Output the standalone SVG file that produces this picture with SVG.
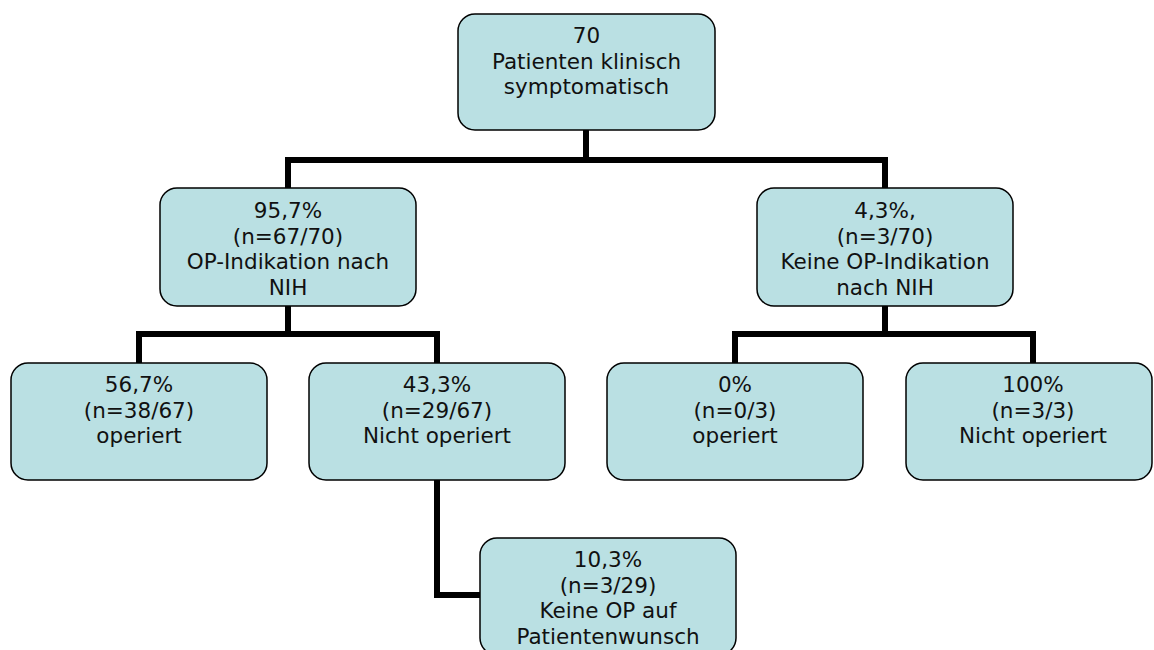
<svg xmlns="http://www.w3.org/2000/svg" width="1154" height="650" viewBox="0 0 1154 650">
  <style>
    .box { fill: #BAE0E3; stroke: #000; stroke-width: 1.5; }
    .lbl { font-family: "DejaVu Sans", Verdana, sans-serif; font-size: 21.5px; fill: #111; text-anchor: middle; }
    .conn { fill: none; stroke: #000; stroke-width: 6; stroke-linejoin: miter; stroke-linecap: butt; }
  </style>
  <rect width="1154" height="650" fill="#fff"/>
  <g id="connectors">
    <path class="conn" d="M586,130 V160"/>
    <path class="conn" d="M288,188 V160 H885 V188"/>
    <path class="conn" d="M288,306 V334"/>
    <path class="conn" d="M139,363 V334 H437 V363"/>
    <path class="conn" d="M885,306 V334"/>
    <path class="conn" d="M735,363 V334 H1033 V363"/>
    <path class="conn" d="M437,480 V595 H480"/>
  </g>
  <g id="root">
    <rect class="box" x="458" y="14" width="257" height="116" rx="17"/>
    <text class="lbl" x="586.5" y="43">70</text>
    <text class="lbl" x="586.5" y="68.5">Patienten klinisch</text>
    <text class="lbl" x="586.5" y="94">symptomatisch</text>
  </g>
  <g id="op-indikation">
    <rect class="box" x="160" y="188" width="256" height="118" rx="17"/>
    <text class="lbl" x="288" y="218">95,7%</text>
    <text class="lbl" x="288" y="243.5">(n=67/70)</text>
    <text class="lbl" x="288" y="269">OP-Indikation nach</text>
    <text class="lbl" x="288" y="294.5">NIH</text>
  </g>
  <g id="keine-op-indikation">
    <rect class="box" x="757" y="188" width="256" height="118" rx="17"/>
    <text class="lbl" x="885" y="218">4,3%,</text>
    <text class="lbl" x="885" y="243.5">(n=3/70)</text>
    <text class="lbl" x="885" y="269">Keine OP-Indikation</text>
    <text class="lbl" x="885" y="294.5">nach NIH</text>
  </g>
  <g id="operiert-a">
    <rect class="box" x="11" y="363" width="256" height="117" rx="17"/>
    <text class="lbl" x="139" y="392">56,7%</text>
    <text class="lbl" x="139" y="417.5">(n=38/67)</text>
    <text class="lbl" x="139" y="443">operiert</text>
  </g>
  <g id="nicht-operiert-a">
    <rect class="box" x="309" y="363" width="256" height="117" rx="17"/>
    <text class="lbl" x="437" y="392">43,3%</text>
    <text class="lbl" x="437" y="417.5">(n=29/67)</text>
    <text class="lbl" x="437" y="443">Nicht operiert</text>
  </g>
  <g id="patientenwunsch">
    <rect class="box" x="480" y="538" width="256" height="117" rx="17"/>
    <text class="lbl" x="608" y="567">10,3%</text>
    <text class="lbl" x="608" y="592.5">(n=3/29)</text>
    <text class="lbl" x="608" y="618">Keine OP auf</text>
    <text class="lbl" x="608" y="643.5">Patientenwunsch</text>
  </g>
  <g id="operiert-c">
    <rect class="box" x="607" y="363" width="256" height="117" rx="17"/>
    <text class="lbl" x="735" y="392">0%</text>
    <text class="lbl" x="735" y="417.5">(n=0/3)</text>
    <text class="lbl" x="735" y="443">operiert</text>
  </g>
  <g id="nicht-operiert-c">
    <rect class="box" x="906" y="363" width="246" height="117" rx="17"/>
    <text class="lbl" x="1033" y="392">100%</text>
    <text class="lbl" x="1033" y="417.5">(n=3/3)</text>
    <text class="lbl" x="1033" y="443">Nicht operiert</text>
  </g>
</svg>
